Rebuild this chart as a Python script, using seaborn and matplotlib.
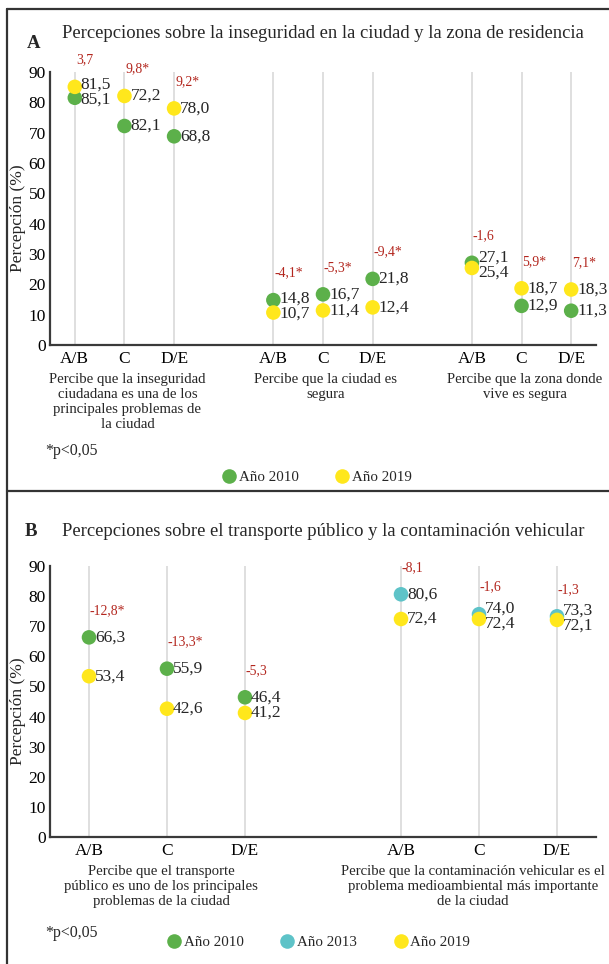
import numpy as np
import pandas as pd
import matplotlib
matplotlib.use('Agg')
import matplotlib.pyplot as plt
import seaborn as sns
from matplotlib.lines import Line2D

# ---- data ----
ses = ['A/B', 'C', 'D/E']

# Panel A: 2010 vs 2019 (dot heights as drawn; printed labels as printed)
a_groups = ['Percibe que la inseguridad\nciudadana es una de los\nprincipales problemas de\nla ciudad',
            'Percibe que la ciudad es\nsegura',
            'Percibe que la zona donde\nvive es segura']
a_2010 = [81.5, 72.2, 68.8, 14.8, 16.7, 21.8, 27.1, 12.9, 11.3]
a_2019 = [85.1, 82.1, 78.0, 10.7, 11.4, 12.4, 25.4, 18.7, 18.3]
a_2010_txt = ['85,1', '82,1', '68,8', '14,8', '16,7', '21,8', '27,1', '12,9', '11,3']
a_2019_txt = ['81,5', '72,2', '78,0', '10,7', '11,4', '12,4', '25,4', '18,7', '18,3']
a_diff = ['3,7', '9,8*', '9,2*', '-4,1*', '-5,3*', '-9,4*', '-1,6', '5,9*', '7,1*']

# Panel B: transporte (2010 vs 2019) and contaminación (2013 vs 2019)
b_groups = ['Percibe que el transporte\npúblico es uno de los principales\nproblemas de la ciudad',
            'Percibe que la contaminación vehicular es el\nproblema medioambiental más importante\nde la ciudad']
b_2010 = [66.3, 55.9, 46.4]
b_2019_transp = [53.4, 42.6, 41.2]
b_2013 = [80.6, 74.0, 73.3]
b_2019_contam = [72.4, 72.4, 72.1]
b_diff = ['-12,8*', '-13,3*', '-5,3', '-8,1', '-1,6', '-1,3']

pal = {'Año 2010': '#5cb04a', 'Año 2013': '#5ec3c8', 'Año 2019': '#ffe71c'}
red = '#b3261e'
axis_col = '#3a3a3a'

sns.set_style('white')
plt.rcParams['font.family'] = ['Liberation Serif', 'DejaVu Serif']

W, H = 609, 964
fig = plt.figure(figsize=(W / 100, H / 100), dpi=100)


def px_axes(left, top, right, bottom):
    return fig.add_axes([left / W, 1 - bottom / H, (right - left) / W, (bottom - top) / H])


def fmt(vals):
    return [f'{v:.1f}'.replace('.', ',') for v in vals]


def build(groups, series):
    rows = []
    for g in range(len(groups)):
        for name, vals, txts in series[g]:
            for j, s in enumerate(ses):
                rows.append({'pos': g * 4 + j, 'ses': s, 'valor': vals[j],
                             'anio': name, 'txt': txts[j]})
    return pd.DataFrame(rows)


def draw_panel(ax, df, groups, diffs, nslots, px_per_unit, cap_shift):
    sns.scatterplot(data=df, x='pos', y='valor', hue='anio', palette=pal, s=110,
                    edgecolor='none', legend=False, ax=ax, zorder=3, clip_on=False)
    positions = sorted(df['pos'].unique())
    ax.set_xlim(-0.5, nslots - 0.5)
    ax.set_ylim(0, 90)
    ax.set_yticks(range(0, 100, 10))
    ax.set_xticks(positions)
    ax.set_xticklabels(ses * len(groups))
    ax.tick_params(axis='both', length=0, labelsize=12.5, colors='black')
    ax.tick_params(axis='y', pad=3)
    ax.tick_params(axis='x', pad=4)
    ax.grid(axis='x', color='#d9d9d9', lw=1.2)
    ax.grid(axis='y', visible=False)
    for sp in ['top', 'right']:
        ax.spines[sp].set_visible(False)
    for sp in ['left', 'bottom']:
        ax.spines[sp].set_color(axis_col)
        ax.spines[sp].set_linewidth(1.6)
    ax.set_xlabel('')
    ax.set_ylabel('Percepción (%)', fontsize=12.5)
    ax.yaxis.set_label_coords(-0.044, 0.465)

    # value labels, nudged apart when two dots nearly touch
    for p, sub in df.groupby('pos'):
        sub = sub.sort_values('valor')
        lo, hi = sub.iloc[0], sub.iloc[1]
        sep = (hi['valor'] - lo['valor']) * px_per_unit
        push = max(0, (15 - sep) / 2)
        ax.annotate(lo['txt'], (p, lo['valor']), xytext=(6, -push), textcoords='offset pixels',
                    ha='left', va='center', fontsize=12.5)
        ax.annotate(hi['txt'], (p, hi['valor']), xytext=(6, push), textcoords='offset pixels',
                    ha='left', va='center', fontsize=12.5)
    # differences above each pair
    tops = df.groupby('pos')['valor'].max()
    for (p, top), d in zip(tops.items(), diffs):
        ax.annotate(d, (p, top), xytext=(1, 27), textcoords='offset pixels',
                    ha='left', va='center', fontsize=9.9, color=red, annotation_clip=False)
    # group captions
    for g, lab in enumerate(groups):
        ax.annotate(lab, (g * 4 + 1, 0), xycoords=('data', 'axes fraction'),
                    xytext=(cap_shift, -28), textcoords='offset pixels', ha='center', va='top',
                    fontsize=10.6, linespacing=1.2)


# ---- panel A ----
dfa = build(a_groups, [[('Año 2010', a_2010[i*3:i*3+3], a_2010_txt[i*3:i*3+3]),
                        ('Año 2019', a_2019[i*3:i*3+3], a_2019_txt[i*3:i*3+3])] for i in range(3)])
axA = px_axes(50, 72, 596, 345)
draw_panel(axA, dfa, a_groups, a_diff, 11, 273 / 90, 3)

# ---- panel B ----
b_series = [[('Año 2010', b_2010, fmt(b_2010)),
             ('Año 2019', b_2019_transp, fmt(b_2019_transp))],
            [('Año 2013', b_2013, fmt(b_2013)),
             ('Año 2019', b_2019_contam, fmt(b_2019_contam))]]
dfb = build(b_groups, b_series)
axB = px_axes(50, 566, 596, 837)
draw_panel(axB, dfb, b_groups, b_diff, 7, 271 / 90, -6)

# ---- titles, notes, legends ----
fig.text(27 / W, 1 - 44 / H, 'A', fontsize=13.5, fontweight='bold', va='center', ha='left')
fig.text(62 / W, 1 - 33 / H, 'Percepciones sobre la inseguridad en la ciudad y la zona de residencia',
         fontsize=13.4, va='center', ha='left')
fig.text(25 / W, 1 - 532 / H, 'B', fontsize=13.5, fontweight='bold', va='center', ha='left')
fig.text(62 / W, 1 - 531 / H, 'Percepciones sobre el transporte público y la contaminación vehicular',
         fontsize=13.4, va='center', ha='left')

for y in [451, 933]:
    fig.text(45 / W, 1 - y / H, '*p<0,05', fontsize=11.4, va='center', ha='left')


def make_legend(names, cx, cy):
    handles = [Line2D([], [], marker='o', ls='', color=pal[n], markeredgecolor='none',
                      markersize=10.5) for n in names]
    fig.legend(handles, names, loc='center', bbox_to_anchor=(cx / W, 1 - cy / H),
               ncol=len(names), frameon=False, fontsize=10.8, handlelength=0.6,
               handletextpad=0.35, columnspacing=2.6, borderpad=0, borderaxespad=0)


make_legend(['Año 2010', 'Año 2019'], 318, 477)
make_legend(['Año 2010', 'Año 2013', 'Año 2019'], 320, 942)

# panel frame lines
for seg in [([7, 7], [9, H]), ([7, W], [9, 9]), ([7, W], [491, 491])]:
    fig.add_artist(Line2D([x / W for x in seg[0]], [1 - y / H for y in seg[1]],
                          transform=fig.transFigure, color='#333333', lw=1.6))

fig.savefig('out.png', dpi=100)
